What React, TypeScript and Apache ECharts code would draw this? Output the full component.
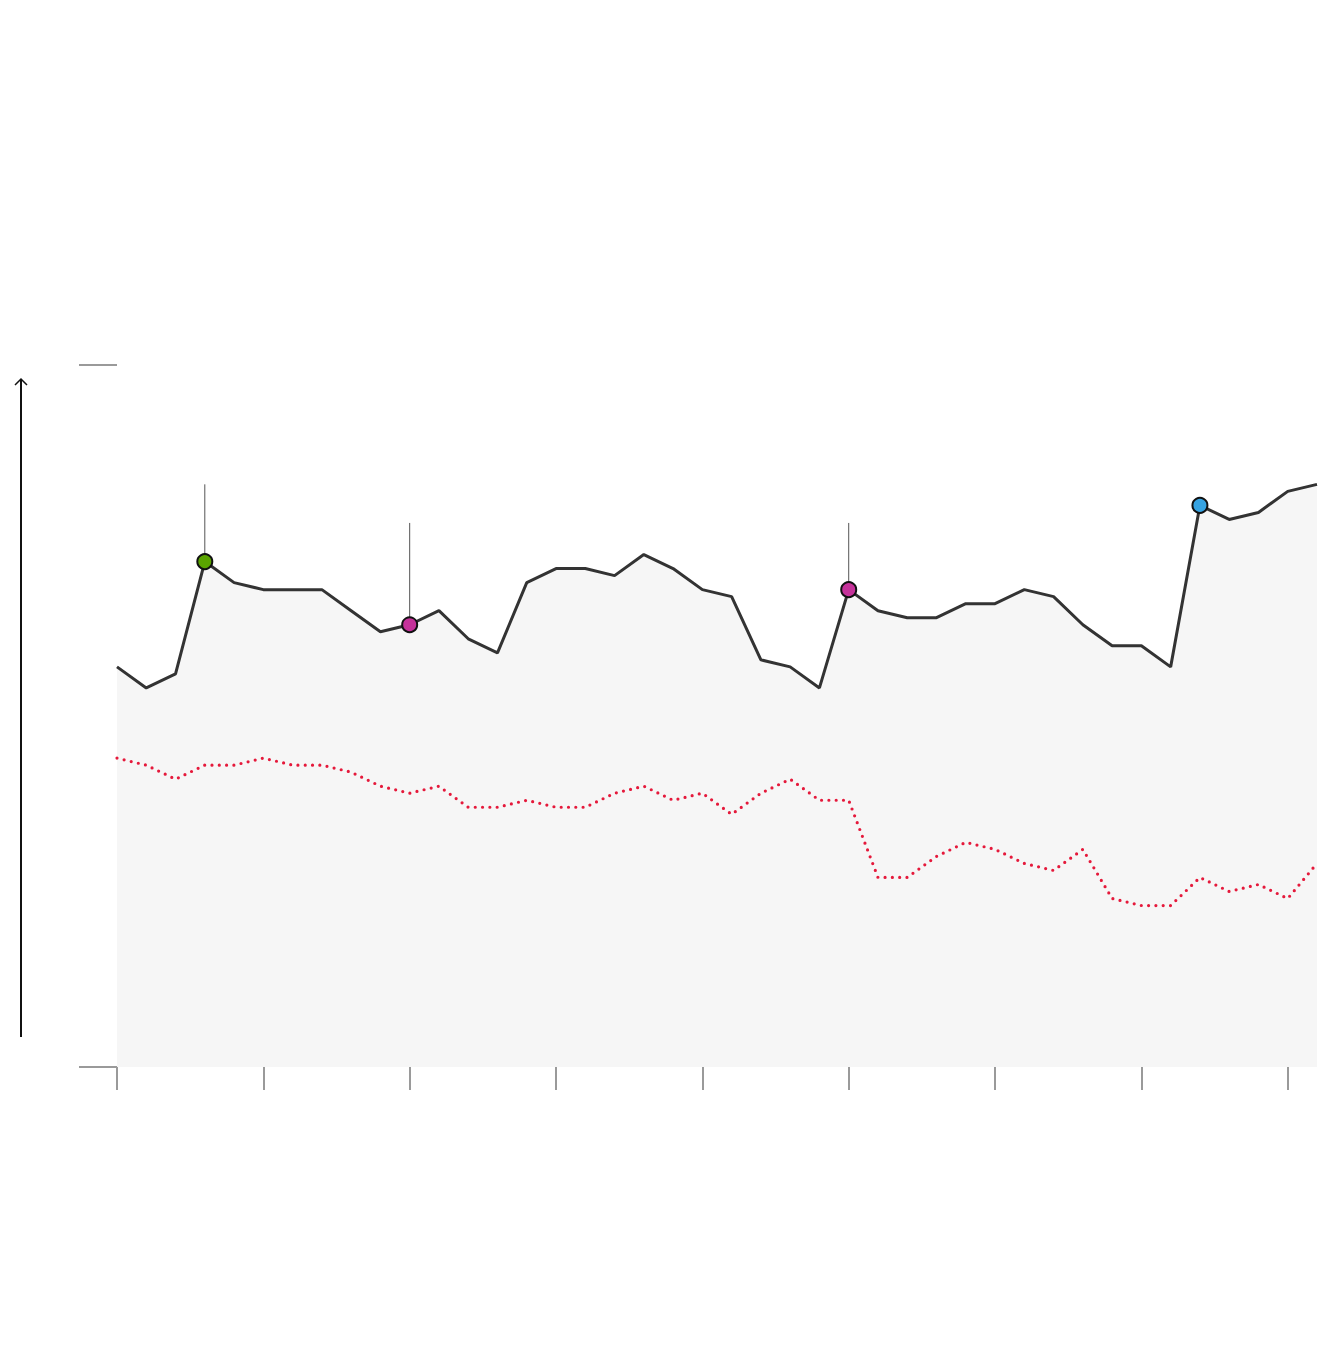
import React, { useEffect, useRef } from "react";
import * as echarts from "echarts";

const categories: string[] = Array.from({ length: 42 }, (_, i) => String(i));

const mainValues: number[] = [
  57, 54, 56, 72, 69, 68, 68, 68, 65, 62,
  63, 65, 61, 59, 69, 71, 71, 70, 73, 71,
  68, 67, 58, 57, 54, 68, 65, 64, 64, 66,
  66, 68, 67, 63, 60, 60, 57, 80, 78, 79,
  82, 83,
];

const refValues: number[] = [
  44, 43, 41, 43, 43, 44, 43, 43, 42, 40,
  39, 40, 37, 37, 38, 37, 37, 39, 40, 38,
  39, 36, 39, 41, 38, 38, 27, 27, 30, 32,
  31, 29, 28, 31, 24, 23, 23, 27, 25, 26,
  24, 29,
];

const markerIdx: number[] = [3, 10, 25, 37];
const markerColors: string[] = ["#5aa400", "#c5329a", "#c5329a", "#36a3e2"];

const stemIdx: number[] = [3, 10, 25];
const stemTop: number[] = [83, 77.5, 77.5];

export default function App() {
  const ref = useRef<HTMLDivElement>(null);

  useEffect(() => {
    if (!ref.current) return;
    const chart = echarts.init(ref.current, undefined, { renderer: "svg" });

    const mainData = mainValues.map((v, i) => {
      const k = markerIdx.indexOf(i);
      if (k < 0) return { value: v, symbol: "none" };
      return {
        value: v,
        symbol: "circle",
        symbolSize: 15,
        itemStyle: {
          color: markerColors[k],
          borderColor: "#111111",
          borderWidth: 2,
          opacity: 1,
        },
      };
    });

    const stemSeries = stemIdx.map((idx, k) => ({
      type: "line",
      data: [
        [idx, mainValues[idx]],
        [idx, stemTop[k]],
      ],
      symbol: "none",
      lineStyle: { color: "#555555", width: 1 },
      z: 1,
      silent: true,
    }));

    const option: any = {
      animation: false,
      backgroundColor: "#ffffff",
      grid: { left: 117, right: 3, top: 365, bottom: 293, containLabel: false },
      xAxis: {
        type: "category",
        data: categories,
        boundaryGap: false,
        axisLine: { show: false },
        axisTick: {
          show: true,
          interval: 4,
          length: 23,
          lineStyle: { color: "#9a9a9a", width: 2 },
        },
        axisLabel: { show: false },
        splitLine: { show: false },
      },
      yAxis: {
        type: "value",
        min: 0,
        max: 100,
        interval: 100,
        axisLine: { show: false },
        axisTick: {
          show: true,
          length: 38,
          lineStyle: { color: "#9a9a9a", width: 2 },
        },
        axisLabel: { show: false },
        splitLine: { show: false },
      },
      series: [
        {
          type: "line",
          data: mainValues,
          symbol: "none",
          lineStyle: { width: 0, opacity: 0 },
          areaStyle: { color: "#f6f6f6", opacity: 1 },
          z: 0,
          silent: true,
        },
        ...stemSeries,
        {
          type: "line",
          data: refValues,
          symbol: "none",
          lineStyle: {
            color: "#e5193b",
            width: 3.2,
            type: [0, 7.3],
            cap: "round",
          },
          z: 2,
        },
        {
          type: "line",
          data: mainData,
          showSymbol: true,
          showAllSymbol: true,
          lineStyle: { color: "#333333", width: 3 },
          z: 3,
        },
      ],
      graphic: [
        {
          type: "line",
          shape: { x1: 21, y1: 1037, x2: 21, y2: 379 },
          style: { stroke: "#111111", lineWidth: 2 },
        },
        {
          type: "polyline",
          shape: { points: [[15, 385], [21, 379], [27, 385]] },
          style: { stroke: "#111111", lineWidth: 1.5, fill: "none" },
        },
      ],
    };

    chart.setOption(option);
    return () => chart.dispose();
  }, []);

  return (
    <div
      ref={ref}
      style={{ position: "fixed", left: 0, top: 0, width: 1320, height: 1360 }}
    />
  );
}
